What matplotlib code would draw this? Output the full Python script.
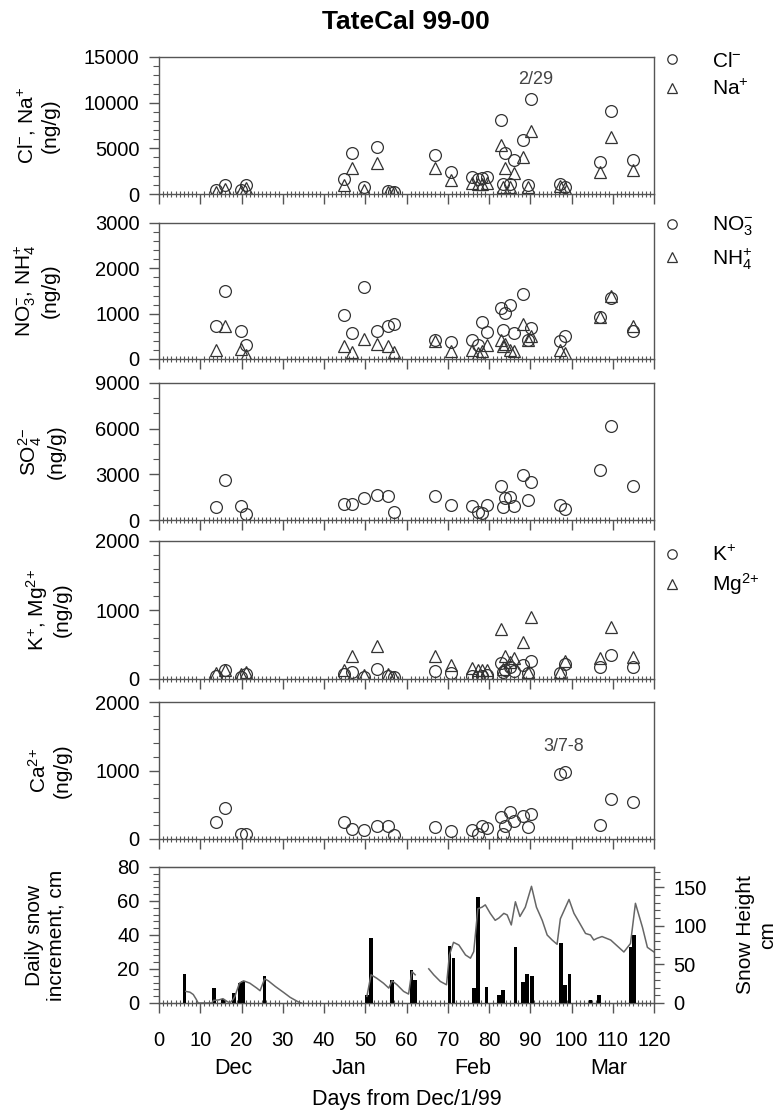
import matplotlib
matplotlib.use('Agg')
import matplotlib.pyplot as plt
import numpy as np
from matplotlib.ticker import MultipleLocator

plt.rcParams['font.family'] = ['Liberation Sans', 'DejaVu Sans']
plt.rcParams['mathtext.default'] = 'regular'

# sample days (days from Dec 1, 1999)
days = [13.8, 16.0, 19.8, 21.0,
        44.8, 46.8, 49.8, 52.8, 55.4, 57.0,
        66.8, 70.9, 75.8, 77.3, 78.3, 79.4,
        82.8, 83.4, 83.8, 85.2, 86.0, 88.3, 89.5, 90.2,
        97.3, 98.5, 106.9, 109.6, 114.8]

# ion concentrations, ng/g
cl = [400, 980, 440, 980,
      1600, 4500, 800, 5100, 300, 200,
      4300, 2400, 1900, 1600, 1750, 1900,
      8100, 1050, 4450, 1090, 3700, 5900, 980, 10350,
      1090, 800, 3550, 9050, 3700]
na = [250, 500, 360, 620,
      980, 2900, 440, 3420, 250, 250,
      2900, 1530, 1240, 1090, 1090, 1160,
      5350, 800, 2800, 800, 2260, 4000, 800, 6900,
      870, 690, 2400, 6250, 2600]
no3 = [717, 1507, 622, 300,
       973, 570, 1595, 607, 732, 775,
       424, 366, 424, 300, 827, 593,
       1120, 644, 1024, 1193, 570, 1427, 424, 680,
       388, 497, 922, 1340, 620]
nh4 = [205, 732, 220, 95,
       278, 154, 446, 337, 278, 146,
       400, 168, 190, 132, 168, 315,
       424, 278, 337, 200, 168, 776, 424, 512,
       205, 132, 922, 1400, 720]
so4 = [878, 2634, 944, 373,
       1054, 1054, 1470, 1646, 1602, 505,
       1580, 988, 922, 549, 483, 988,
       2260, 878, 1470, 1536, 944, 2963, 1317, 2524,
       988, 702, 3300, 6150, 2250]
k = [48, 130, 34, 72,
     68, 106, 34, 140, 48, 24,
     116, 82, 48, 34, 48, 60,
     227, 100, 130, 180, 116, 203, 82, 261,
     82, 212, 170, 348, 170]
mg = [82, 130, 68, 106,
      130, 333, 58, 483, 68, 34,
      333, 203, 155, 130, 130, 130,
      720, 150, 333, 250, 300, 531, 106, 903,
      106, 261, 304, 754, 319]
ca = [243, 447, 73, 78,
      243, 146, 136, 184, 194, 53,
      170, 112, 136, 73, 184, 160,
      320, 78, 194, 388, 257, 340, 170, 364,
      947, 985, 204, 584, 540]

# daily snow increment (cm)
snow_days = [6.2, 13.4, 15.5, 18.2, 19.5, 20.4, 25.6, 50.5, 51.4, 56.5,
             61.2, 62.1, 70.4, 71.4, 76.3, 77.3, 79.4, 82.4, 83.4, 86.4,
             88.3, 89.2, 90.5, 97.5, 98.5, 99.5, 104.6, 106.6, 114.3, 115.1]
snow_inc = [17, 9, 2.5, 6, 12, 13, 16, 4.5, 38.5, 13.5,
            19.5, 13.5, 33.5, 26.5, 8.8, 62.5, 9.7, 4.9, 7.8, 33,
            12.3, 17, 15.6, 35.5, 10.7, 17, 1.6, 4.9, 33, 40]

# snow height (cm), NaN = gap
h_days = [6.5, 7.5, 8.3, 9.0, 9.5, 12.8, 13.2, 14.5, 15.5, 16.5, 17.2, 18.0,
          18.4, 19.5, 20.5, 22.0, 23.7, 24.5, 25.6, 26.5, 28.2, 30.2, 31.8,
          33.8, 34.5, np.nan,
          50.4, 51.4, 52.8, 54.4, 55.7, 56.5, 57.7, 59.3, 60.5, 61.3, 62.1,
          np.nan,
          65.4, 66.6, 68.2, 69.7, 70.4, 71.4, 72.7, 74.3, 75.5, 76.3, 77.3,
          78.3, 79.1, 80.3, 81.5, 82.4, 83.6, 84.4, 85.4, 86.4, 87.5, 88.8,
          90.3, 91.5, 92.9, 94.1, 95.3, 96.5, 97.3, 99.4, 100.6, 101.8,
          103.4, 104.6, 105.4, 106.2, 107.4, 109.5, 112.7, 114.3, 115.5,
          117.2, 118.4, 120.0]
h_vals = [15, 14, 11, 5, 0, 0, 3.4, 4, 5.6, 2, 0, 5,
          8.6, 25.7, 28.7, 25.7, 19.3, 15.9, 31.3, 28.7, 21.4, 13.7, 7.3,
          1.3, 0, np.nan,
          8.6, 36.5, 32, 25.7, 19.3, 28.7, 23.6, 15, 11.6, 40.8, 36.5,
          np.nan,
          44.2, 36.5, 27.9, 23.6, 62.2, 78.5, 75, 62.2, 58, 66.5, 122,
          124, 127, 116, 107, 110, 116, 114, 101, 131, 112, 124,
          151, 124, 107, 88, 81.5, 76, 109, 134, 116, 105,
          90, 88, 81.5, 83.7, 86, 81.5, 66, 77, 129,
          98, 72, 66]

months = ['Dec', 'Jan', 'Feb', 'Mar']
month_pos = [18, 46, 76, 109]

W, H = 781, 1114
fig = plt.figure(figsize=(W / 100, H / 100), dpi=100)

left, right = 159, 654
panels = [(57, 194), (223, 359), (383, 520), (541, 679), (702, 839), (867, 1003)]
axes = []
for top, bot in panels:
    ax = fig.add_axes([left / W, 1 - bot / H, (right - left) / W, (bot - top) / H])
    axes.append(ax)

edge = '#555555'
mk = dict(ls='none', mfc='none', mec='#333333', mew=0.9, ms=8.5)
TS = 14.5   # tick labels
LS = 15     # axis labels


def style(ax, ymax, ymaj, ymin):
    ax.set_xlim(0, 120)
    ax.set_ylim(0, ymax)
    ax.xaxis.set_major_locator(MultipleLocator(10))
    ax.xaxis.set_minor_locator(MultipleLocator(1))
    ax.yaxis.set_major_locator(MultipleLocator(ymaj))
    ax.yaxis.set_minor_locator(MultipleLocator(ymin))
    ax.tick_params(axis='x', which='major', direction='out', length=7, width=1,
                   color=edge, labelsize=TS, pad=13)
    ax.tick_params(axis='x', which='minor', direction='inout', length=5,
                   width=0.8, color=edge)
    ax.tick_params(axis='y', which='major', direction='out', length=7, width=1,
                   color=edge, labelsize=TS, pad=7)
    ax.tick_params(axis='y', which='minor', direction='out', length=4,
                   width=0.8, color=edge)
    for s in ax.spines.values():
        s.set_color(edge)
        s.set_linewidth(1)


def leg(ax, y0, spacing):
    ax.legend(loc='upper left', bbox_to_anchor=(1.016, y0), frameon=False,
              fontsize=LS, handlelength=1.0, handletextpad=1.4,
              borderpad=0, borderaxespad=0, labelspacing=spacing,
              markerscale=0.8)


ax1, ax2, ax3, ax4, ax5, ax6 = axes

ax1.plot(days, cl, marker='o', label='Cl$^{-}$', **mk)
ax1.plot(days, na, marker='^', label='Na$^{+}$', **mk)
style(ax1, 15000, 5000, 1000)
ax1.set_ylabel('Cl$^{-}$, Na$^{+}$\n(ng/g)', fontsize=LS)
ax1.text(91.3, 12500, '2/29', ha='center', va='center', fontsize=13, color='#444444')
leg(ax1, 1.04, 0.4)

ax2.plot(days, no3, marker='o', label='NO$_{3}^{-}$', **mk)
ax2.plot(days, nh4, marker='^', label='NH$_{4}^{+}$', **mk)
style(ax2, 3000, 1000, 200)
ax2.set_ylabel('NO$_{3}^{-}$, NH$_{4}^{+}$\n(ng/g)', fontsize=LS)
leg(ax2, 1.06, 0.4)

ax3.plot(days, so4, marker='o', **mk)
style(ax3, 9000, 3000, 1000)
ax3.set_ylabel('SO$_{4}^{2{-}}$\n(ng/g)', fontsize=LS)

ax4.plot(days, k, marker='o', label='K$^{+}$', **mk)
ax4.plot(days, mg, marker='^', label='Mg$^{2{+}}$', **mk)
style(ax4, 2000, 1000, 200)
ax4.set_ylabel('K$^{+}$, Mg$^{2{+}}$\n(ng/g)', fontsize=LS)
leg(ax4, 0.97, 0.3)

ax5.plot(days, ca, marker='o', **mk)
style(ax5, 2000, 1000, 200)
ax5.set_ylabel('Ca$^{2{+}}$\n(ng/g)', fontsize=LS)
ax5.text(98, 1350, '3/7-8', ha='center', va='center', fontsize=13, color='#444444')

ax6.bar(snow_days, snow_inc, width=0.9, color='black', zorder=3)
style(ax6, 80, 20, 4)
ax6.set_ylabel('Daily snow\nincrement, cm', fontsize=LS)
axr = ax6.twinx()
axr.plot(h_days, h_vals, color='#666666', lw=1.1)
axr.set_ylim(0, 176)
axr.yaxis.set_major_locator(MultipleLocator(50))
axr.yaxis.set_minor_locator(MultipleLocator(10))
axr.tick_params(axis='y', which='major', direction='out', length=7, width=1,
                color=edge, labelsize=TS, pad=7)
axr.tick_params(axis='y', which='minor', direction='out', length=4,
                width=0.8, color=edge)
for s in axr.spines.values():
    s.set_color(edge)
axr.set_ylabel('Snow Height\ncm', fontsize=LS)
axr.yaxis.set_label_coords(1.165, 0.5)

for ax in axes[:5]:
    ax.tick_params(axis='x', labelbottom=False)

label_x = [60, 60, 66, 72, 72, 66]
for ax, lx in zip(axes, label_x):
    ax.yaxis.set_label_coords((lx - left) / (right - left), 0.5)

for m, d in zip(months, month_pos):
    ax6.text(d, -0.478, m, transform=ax6.get_xaxis_transform(),
             ha='center', va='center', fontsize=15.5)
ax6.set_xlabel('Days from Dec/1/99', fontsize=15.5)
ax6.xaxis.set_label_coords(0.5, -0.63)

fig.text(406 / W, 1 - 22 / H, 'TateCal 99-00', ha='center', va='center',
         fontsize=19, fontweight='bold')

fig.savefig('out.png', dpi=100)
